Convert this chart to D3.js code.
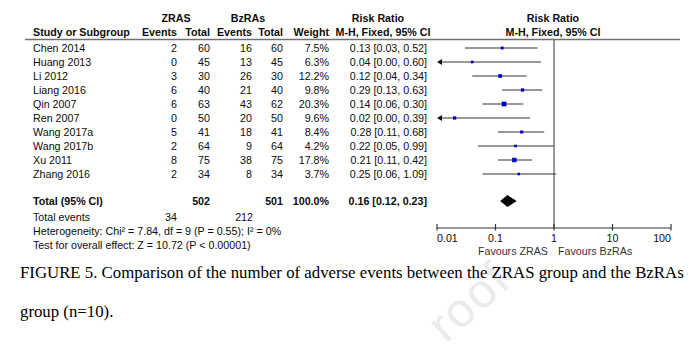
<!DOCTYPE html>
<html>
<head>
<meta charset="utf-8">
<script src="https://cdn.jsdelivr.net/npm/d3@7/dist/d3.min.js"></script>
<style>
  html, body { margin: 0; padding: 0; background: #fff; }
  svg { display: block; }
</style>
</head>
<body>
<svg id="chart" width="700" height="360"></svg>
<script>
// ---------- data ----------
const studies = ["Chen 2014","Huang 2013","Li 2012","Liang 2016","Qin 2007","Ren 2007","Wang 2017a","Wang 2017b","Xu 2011","Zhang 2016"];
const zrasEvents = [2, 0, 3, 6, 6, 0, 5, 2, 8, 2];
const zrasTotal  = [60, 45, 30, 40, 63, 50, 41, 64, 75, 34];
const bzEvents   = [16, 13, 26, 21, 43, 20, 18, 9, 38, 8];
const bzTotal    = [60, 45, 30, 40, 62, 50, 41, 64, 75, 34];
const weights    = [7.5, 6.3, 12.2, 9.8, 20.3, 9.6, 8.4, 4.2, 17.8, 3.7];
const rr         = [0.13, 0.04, 0.12, 0.29, 0.14, 0.02, 0.28, 0.22, 0.21, 0.25];
const rrLow      = [0.03, 0.00, 0.04, 0.13, 0.06, 0.00, 0.11, 0.05, 0.11, 0.06];
const rrHigh     = [0.52, 0.60, 0.34, 0.63, 0.30, 0.39, 0.68, 0.99, 0.42, 1.09];
const total = { zrasTotal: 502, bzTotal: 501, weight: "100.0%", rr: 0.16, low: 0.12, high: 0.23, zrasEvents: 34, bzEvents: 212 };
const axisTicks = [0.01, 0.1, 1, 10, 100];
const axisTickLabels = ["0.01", "0.1", "1", "10", "100"];
const heterogeneityText = "Heterogeneity: Chi\u00B2 = 7.84, df = 9 (P = 0.55); I\u00B2 = 0%";
const overallText = "Test for overall effect: Z = 10.72 (P < 0.00001)";
const caption1 = "FIGURE 5. Comparison of the number of adverse events between the ZRAS group and the BzRAs";
const caption2 = "group (n=10).";
const watermarkText = "roof";

// ---------- layout ----------
const svg = d3.select("#chart");
const FONT = "'Liberation Sans', Arial, sans-serif";
const FS = 10.7;
const x = d3.scaleLog().domain([0.01, 100]).range([437, 671]);
const rowY = d3.scaleLinear().domain([0, 1]).range([48, 62]);
const fmt2 = d3.format(".2f");
const fmtW = d => d.toFixed(1) + "%";

const cols = {
  name: 33, zE: 177, zT: 210, bE: 252, bT: 283, w: 329, rr: 427
};

function txt(g, xx, yy, s, opt = {}) {
  return g.append("text")
    .attr("x", xx).attr("y", yy).attr("dy", "0.35em")
    .attr("font-family", FONT)
    .attr("font-size", opt.size || FS)
    .attr("font-weight", opt.bold ? "bold" : "normal")
    .attr("text-anchor", opt.anchor || "start")
    .attr("fill", opt.fill || "#0c0c0c")
    .text(s);
}

// watermark (partial, as visible in the figure)
svg.append("text")
  .attr("transform", "translate(446,344) rotate(-42)")
  .attr("font-family", "'Liberation Sans', Arial, sans-serif")
  .attr("font-size", 48)
  .attr("letter-spacing", 2)
  .attr("fill", "#ebebeb")
  .text(watermarkText);

const g = svg.append("g");

// header
txt(g, 176, 18, "ZRAS", { bold: true, anchor: "middle" });
txt(g, 248, 18, "BzRAs", { bold: true, anchor: "middle" });
txt(g, 378, 18, "Risk Ratio", { bold: true, anchor: "middle" });
txt(g, 553, 18, "Risk Ratio", { bold: true, anchor: "middle" });
txt(g, cols.name, 32, "Study or Subgroup", { bold: true });
txt(g, cols.zE, 32, "Events", { bold: true, anchor: "end" });
txt(g, cols.zT, 32, "Total", { bold: true, anchor: "end" });
txt(g, cols.bE, 32, "Events", { bold: true, anchor: "end" });
txt(g, cols.bT, 32, "Total", { bold: true, anchor: "end" });
txt(g, cols.w, 32, "Weight", { bold: true, anchor: "end" });
txt(g, 383, 32, "M-H, Fixed, 95% CI", { bold: true, anchor: "middle" });
txt(g, 553, 32, "M-H, Fixed, 95% CI", { bold: true, anchor: "middle" });

g.append("line").attr("x1", 25).attr("x2", 680).attr("y1", 39.5).attr("y2", 39.5)
  .attr("stroke", "#707070").attr("stroke-width", 1.6);

// null line
g.append("line").attr("x1", x(1)).attr("x2", x(1)).attr("y1", 39.5).attr("y2", 228)
  .attr("stroke", "#555").attr("stroke-width", 1.2);

// study rows
studies.forEach((s, i) => {
  const yy = rowY(i);
  txt(g, cols.name, yy, s);
  txt(g, cols.zE, yy, zrasEvents[i], { anchor: "end" });
  txt(g, cols.zT, yy, zrasTotal[i], { anchor: "end" });
  txt(g, cols.bE, yy, bzEvents[i], { anchor: "end" });
  txt(g, cols.bT, yy, bzTotal[i], { anchor: "end" });
  txt(g, cols.w, yy, fmtW(weights[i]), { anchor: "end" });
  txt(g, cols.rr, yy, `${fmt2(rr[i])} [${fmt2(rrLow[i])}, ${fmt2(rrHigh[i])}]`, { anchor: "end" });

  // CI line
  const lowClipped = rrLow[i] < 0.01;
  const x1 = lowClipped ? x(0.01) : x(rrLow[i]);
  const x2 = x(Math.min(rrHigh[i], 100));
  g.append("line").attr("x1", x1 + (lowClipped ? 3 : 0)).attr("x2", x2).attr("y1", yy).attr("y2", yy)
    .attr("stroke", "#333").attr("stroke-width", 1.2);
  if (lowClipped) {
    g.append("path")
      .attr("d", `M${x1},${yy} L${x1 + 5},${yy - 3} L${x1 + 5},${yy + 3} Z`)
      .attr("fill", "#111");
  }
  const side = Math.max(2.6, Math.sqrt(weights[i]) * 1.05);
  g.append("rect")
    .attr("x", x(rr[i]) - side / 2).attr("y", yy - side / 2)
    .attr("width", side).attr("height", side)
    .attr("fill", "#0000c8");
});

// total row
const ty = rowY(10.93);
txt(g, cols.name, ty, "Total (95% CI)", { bold: true });
txt(g, cols.zT, ty, total.zrasTotal, { bold: true, anchor: "end" });
txt(g, cols.bT, ty, total.bzTotal, { bold: true, anchor: "end" });
txt(g, cols.w, ty, total.weight, { bold: true, anchor: "end" });
txt(g, cols.rr, ty, `${fmt2(total.rr)} [${fmt2(total.low)}, ${fmt2(total.high)}]`, { bold: true, anchor: "end" });
g.append("path")
  .attr("d", `M${x(total.low)},${ty} L${x(total.rr)},${ty - 6} L${x(total.high)},${ty} L${x(total.rr)},${ty + 6} Z`)
  .attr("fill", "#000");

// footer rows
txt(g, cols.name, rowY(12.07), "Total events");
txt(g, cols.zE, rowY(12.07), total.zrasEvents, { anchor: "end" });
txt(g, 253, rowY(12.07), total.bzEvents, { anchor: "end" });
txt(g, cols.name, rowY(13.07), heterogeneityText);
txt(g, cols.name, rowY(14.07), overallText);

// axis
const axisY = 228;
const axisG = g.append("g");
axisG.append("line").attr("x1", x(0.01)).attr("x2", x(100)).attr("y1", axisY).attr("y2", axisY)
  .attr("stroke", "#333").attr("stroke-width", 1.2);
axisTicks.forEach((t, i) => {
  axisG.append("line").attr("x1", x(t)).attr("x2", x(t)).attr("y1", axisY - 4).attr("y2", axisY + 2.5)
    .attr("stroke", "#333").attr("stroke-width", 1.2);
  const anchor = i === 0 ? "start" : (i === axisTicks.length - 1 ? "end" : "middle");
  txt(axisG, x(t), 238, axisTickLabels[i], { anchor });
});
txt(axisG, 548, 251, "Favours ZRAS", { anchor: "end", fill: "#333" });
txt(axisG, 558, 251, "Favours BzRAs", { anchor: "start", fill: "#333" });

// caption
const capG = svg.append("g");
capG.append("text").attr("x", 20).attr("y", 278)
  .attr("font-family", "'Liberation Serif', 'Times New Roman', serif")
  .attr("font-size", 16.8).attr("fill", "#000").text(caption1);
capG.append("text").attr("x", 20).attr("y", 317)
  .attr("font-family", "'Liberation Serif', 'Times New Roman', serif")
  .attr("font-size", 16.8).attr("fill", "#000").text(caption2);
</script>
</body>
</html>
